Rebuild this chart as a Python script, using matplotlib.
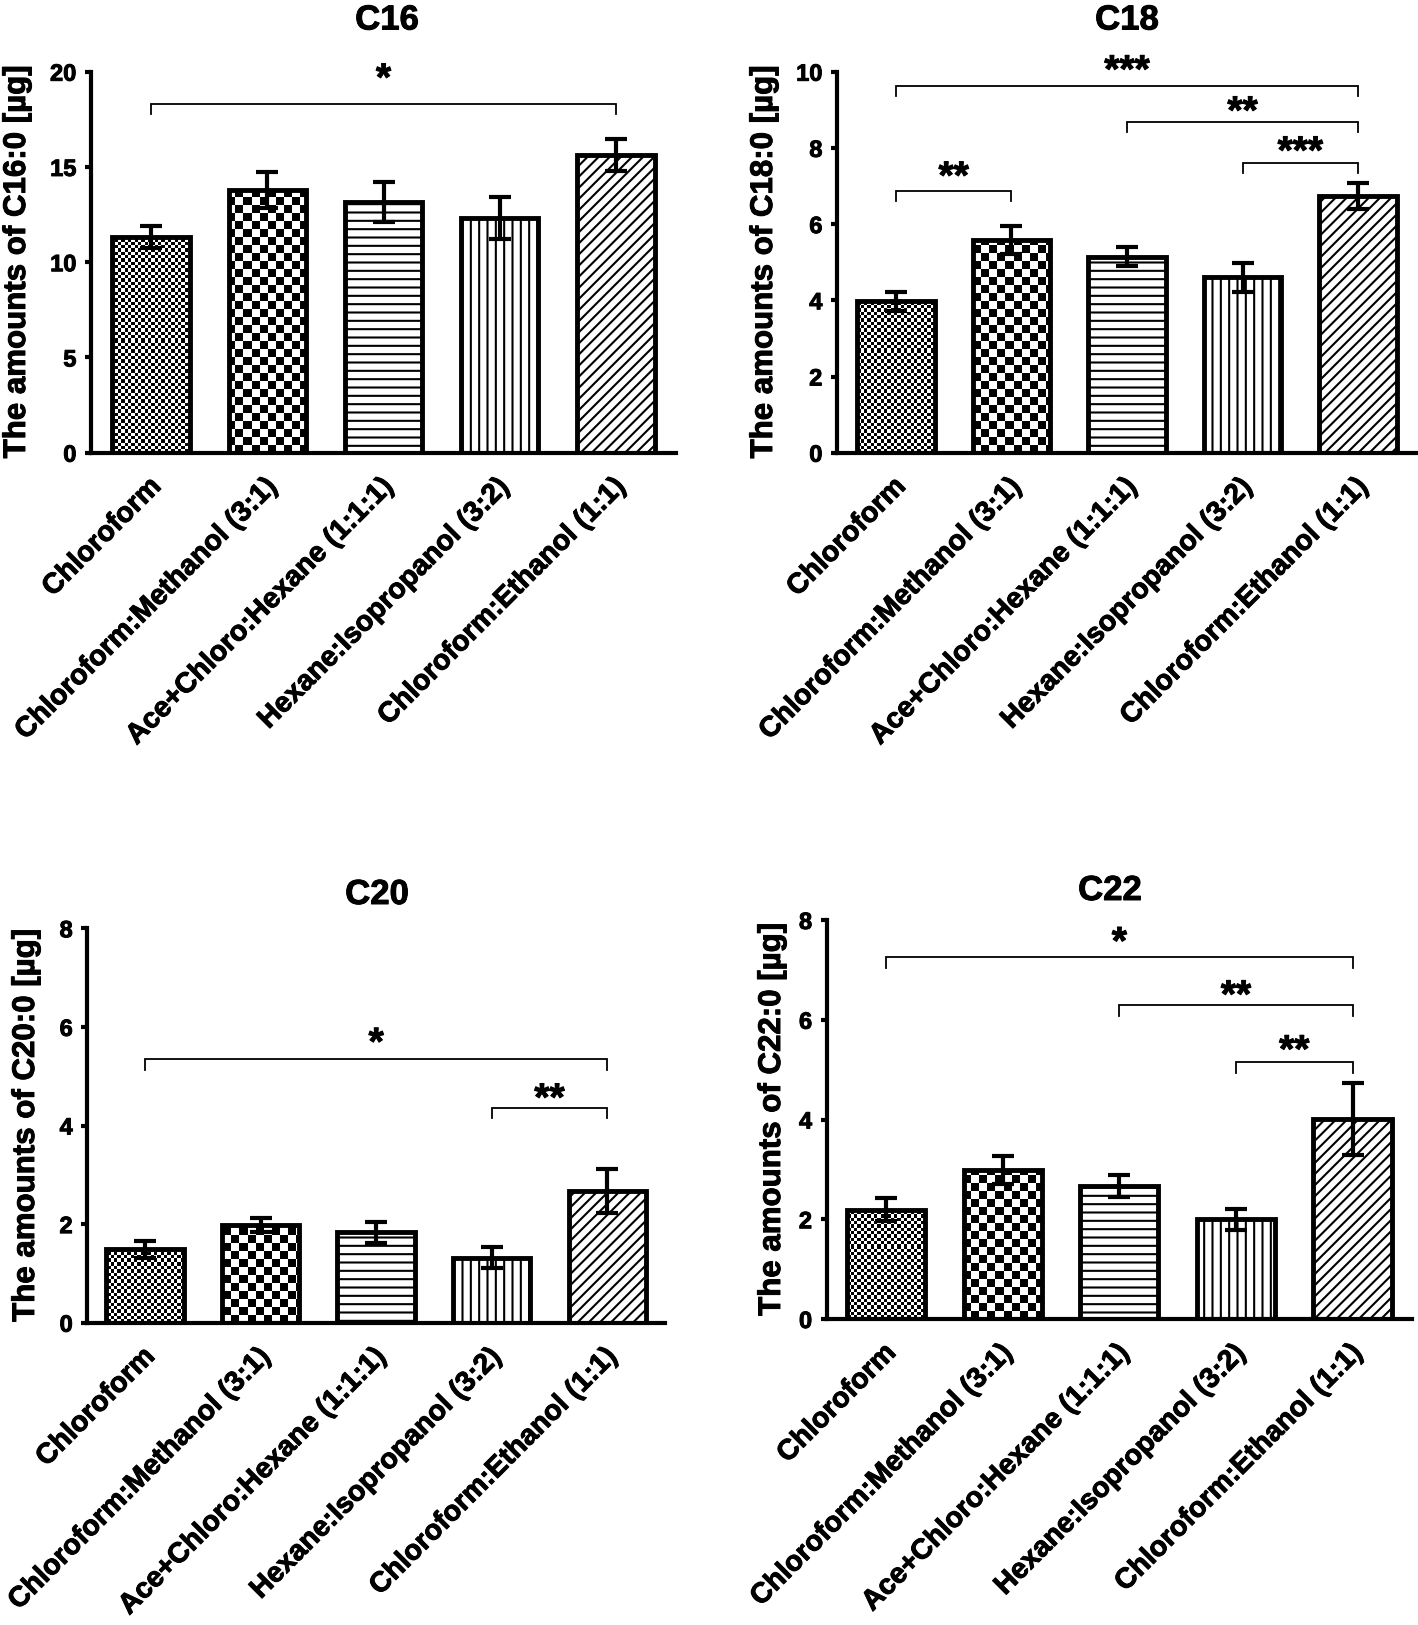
import numpy as np
import matplotlib
matplotlib.use("Agg")
import matplotlib.pyplot as plt
import matplotlib.patheffects as pe
from matplotlib.transforms import ScaledTranslation

plt.rcParams['font.family'] = ['Liberation Sans', 'DejaVu Sans']
plt.rcParams['font.weight'] = 'bold'
plt.rcParams['hatch.linewidth'] = 1.5

# ---------------- data ----------------
categories = ["Chloroform", "Chloroform:Methanol (3:1)", "Ace+Chloro:Hexane (1:1:1)",
              "Hexane:Isopropanol (3:2)", "Chloroform:Ethanol (1:1)"]

c16_mean = [11.34, 13.79, 13.18, 12.30, 15.63]
c16_err = [0.58, 0.96, 1.05, 1.10, 0.82]
c18_mean = [3.97, 5.59, 5.14, 4.61, 6.74]
c18_err = [0.25, 0.37, 0.25, 0.38, 0.35]
c20_mean = [1.49, 1.98, 1.83, 1.32, 2.67]
c20_err = [0.17, 0.15, 0.21, 0.22, 0.45]
c22_mean = [2.19, 2.98, 2.67, 2.00, 4.01]
c22_err = [0.23, 0.28, 0.22, 0.21, 0.72]

# significance brackets: left bar, right bar, bracket height, label, label height
c16_sig_left = [0]
c16_sig_right = [4]
c16_sig_y = [18.29]
c16_sig_text = ["*"]
c16_sig_text_y = [19.83]

c18_sig_left = [0, 2, 3, 0]
c18_sig_right = [4, 4, 4, 1]
c18_sig_y = [9.62, 8.67, 7.61, 6.87]
c18_sig_text = ["***", "**", "***", "**"]
c18_sig_text_y = [10.13, 9.05, 8.00, 7.34]

c20_sig_left = [0, 3]
c20_sig_right = [4, 4]
c20_sig_y = [5.34, 4.35]
c20_sig_text = ["*", "**"]
c20_sig_text_y = [5.75, 4.62]

c22_sig_left = [0, 2, 3]
c22_sig_right = [4, 4, 4]
c22_sig_y = [7.25, 6.29, 5.15]
c22_sig_text = ["*", "**", "**"]
c22_sig_text_y = [7.63, 6.56, 5.46]

titles = ["C16", "C18", "C20", "C22"]
ylabels = ["The amounts of C16:0 [\u00b5g]", "The amounts of C18:0 [\u00b5g]",
           "The amounts of C20:0 [\u00b5g]", "The amounts of C22:0 [\u00b5g]"]
yticks_list = [[0, 5, 10, 15, 20], [0, 2, 4, 6, 8, 10], [0, 2, 4, 6, 8], [0, 2, 4, 6, 8]]

# ---------------- layout ----------------
W, H = 1418, 1625
fig = plt.figure(figsize=(W / 100, H / 100), dpi=100)
heavy = [pe.withStroke(linewidth=0.7, foreground='black')]

def rect(left, right, top, bottom):
    return [left / W, 1 - bottom / H, (right - left) / W, (bottom - top) / H]

panels = [
    dict(rect=rect(91, 676, 71.7, 452.7), xlim=(-0.52, 4.52), ymax=20,
         mean=c16_mean, err=c16_err, sl=c16_sig_left, sr=c16_sig_right, sy=c16_sig_y,
         st=c16_sig_text, sty=c16_sig_text_y, title_xy=(387, 29.5), ylab_xy=(17, 262)),
    dict(rect=rect(837, 1417, 71.7, 452.7), xlim=(-0.51, 4.51), ymax=10,
         mean=c18_mean, err=c18_err, sl=c18_sig_left, sr=c18_sig_right, sy=c18_sig_y,
         st=c18_sig_text, sty=c18_sig_text_y, title_xy=(1127, 29.5), ylab_xy=(764, 262)),
    dict(rect=rect(87.3, 665, 928.3, 1322.7), xlim=(-0.5, 4.5), ymax=8,
         mean=c20_mean, err=c20_err, sl=c20_sig_left, sr=c20_sig_right, sy=c20_sig_y,
         st=c20_sig_text, sty=c20_sig_text_y, title_xy=(377, 904), ylab_xy=(26, 1125.5)),
    dict(rect=rect(826.7, 1412, 920, 1319), xlim=(-0.51, 4.51), ymax=8,
         mean=c22_mean, err=c22_err, sl=c22_sig_left, sr=c22_sig_right, sy=c22_sig_y,
         st=c22_sig_text, sty=c22_sig_text_y, title_xy=(1110, 900), ylab_xy=(772, 1119.5)),
]

hatches = [None, None, '--', '||', '///']
checker_cells = [10 / 3, 8, None, None, None]
bar_width = 0.67

for k, p in enumerate(panels):
    ax = fig.add_axes(p['rect'])
    x = np.arange(len(categories))
    x0, x1 = p['xlim']
    ymax = p['ymax']

    # white base bars
    base = ax.bar(x, p['mean'], width=bar_width, color='white', edgecolor='none', zorder=1)

    # checker textures clipped to bars
    bb = ax.get_window_extent()
    wpx, hpx = int(round(bb.width)), int(round(bb.height))
    yy, xx = np.mgrid[0:hpx, 0:wpx]
    for i, cell in enumerate(checker_cells):
        if cell is None:
            continue
        arr = ((np.floor(xx / cell) + np.floor(yy / cell)) % 2).astype(float)
        im = ax.imshow(arr, cmap='gray', vmin=0, vmax=1, origin='lower',
                       extent=(x0, x1, 0, ymax), aspect='auto',
                       interpolation='nearest', zorder=1.5)
        im.set_clip_path(base.patches[i])

    # outlined / hatched bars
    ax.bar(x, p['mean'], width=bar_width, color='none', edgecolor='black',
           linewidth=3.5, hatch=hatches, zorder=2)

    ax.errorbar(x, p['mean'], yerr=p['err'], fmt='none', ecolor='black',
                elinewidth=3, capsize=8, capthick=3, zorder=3)

    # significance brackets
    drop = 0.026 * ymax
    for l, r, yb, t, ty in zip(p['sl'], p['sr'], p['sy'], p['st'], p['sty']):
        ax.plot([l, l, r, r], [yb - drop, yb, yb, yb - drop], color='black',
                linewidth=1.3, zorder=3, solid_joinstyle='miter', clip_on=False)
        ax.annotate(t, xy=((l + r) / 2, ty), xytext=(0, -11), textcoords='offset points',
                    ha='center', va='baseline', fontsize=28, fontweight='bold',
                    annotation_clip=False, path_effects=heavy)

    ax.set_xlim(x0, x1)
    ax.set_ylim(0, ymax)
    ax.set_yticks(yticks_list[k])
    ax.tick_params(axis='y', direction='out', length=4.5, width=3, labelsize=17, pad=6)
    ax.set_xticks(x)
    ax.set_xticklabels(categories, rotation=45, ha='right', va='center',
                       rotation_mode='anchor', fontsize=20.5, fontweight='bold')
    ax.tick_params(axis='x', length=0, pad=0)
    offset = ScaledTranslation(6 / 100, -30 / 100, fig.dpi_scale_trans)
    for lab in ax.get_xticklabels():
        lab.set_transform(lab.get_transform() + offset)
        lab.set_path_effects(heavy)
    for lab in ax.get_yticklabels():
        lab.set_fontweight('bold')
        lab.set_path_effects(heavy)

    for s in ['top', 'right']:
        ax.spines[s].set_visible(False)
    for s in ['left', 'bottom']:
        ax.spines[s].set_linewidth(3)
    ax.patch.set_alpha(0)

    tx, ty = p['title_xy']
    fig.text(tx / W, 1 - ty / H, titles[k], ha='center', va='baseline',
             fontsize=25, fontweight='bold', path_effects=heavy)
    lx, ly = p['ylab_xy']
    fig.text(lx / W, 1 - ly / H, ylabels[k], rotation=90, ha='center', va='center',
             fontsize=22.5, fontweight='bold', path_effects=heavy)

fig.savefig('out.png', dpi=100)
